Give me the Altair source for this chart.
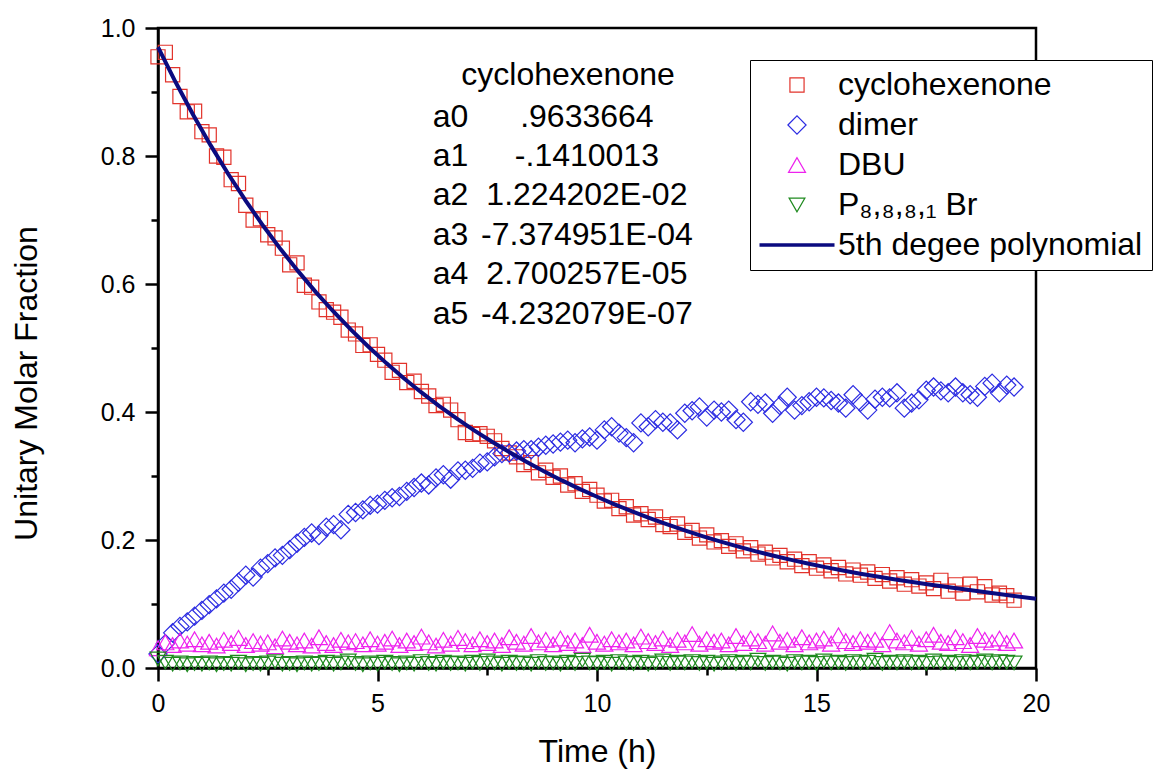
import altair as alt
import pandas as pd

FONT = "Liberation Sans"

# sampling instants (h), every 10 minutes
time_h = [round(i / 6, 4) for i in range(118)]

cyclohexenone = [
    .955, .962, .927, .893, .869, .870,
    .838, .833, .800, .798, .763, .757,
    .723, .700, .702, .677, .672, .656,
    .630, .633, .598, .595, .572, .560,
    .556, .548, .528, .522, .504, .505,
    .490, .481, .462, .465, .446, .448,
    .432, .425, .410, .412, .403, .388,
    .368, .365, .366, .362, .355, .343,
    .336, .330, .318, .321, .305, .309,
    .298, .300, .286, .288, .276, .279,
    .270, .261, .262, .249, .252, .239,
    .241, .232, .236, .224, .221, .225,
    .212, .215, .203, .208, .197, .199,
    .190, .194, .183, .188, .178, .181,
    .172, .176, .166, .170, .160, .166,
    .156, .161, .152, .157, .147, .153,
    .145, .150, .140, .146, .136, .141,
    .131, .138, .128, .133, .124, .137,
    .120, .130, .117, .131, .119, .127,
    .114, .117, .113, .106,
]

dimer = [
    .022, .038, .055, .065, .072, .081,
    .090, .099, .108, .117, .123, .134,
    .145, .142, .156, .163, .172, .176,
    .185, .195, .204, .211, .207, .220,
    .224, .216, .240, .243, .247, .254,
    .256, .262, .266, .268, .276, .282,
    .289, .286, .297, .302, .295, .308,
    .309, .312, .320, .322, .330, .335,
    .336, .339, .341, .341, .345, .348,
    .350, .353, .356, .352, .358, .361,
    .356, .372, .377, .367, .360, .352,
    .383, .377, .388, .384, .383, .372,
    .398, .402, .408, .392, .403, .400,
    .403, .388, .384, .416, .412, .414,
    .398, .410, .423, .403, .410, .416,
    .423, .422, .418, .414, .406, .427,
    .415, .403, .420, .423, .422, .430,
    .406, .414, .419, .434, .439, .433,
    .430, .439, .430, .427, .423, .440,
    .445, .430, .442, .439,
]

dbu = [
    .031, .040, .036, .043, .038, .045,
    .037, .041, .035, .044, .039, .047,
    .036, .042, .038, .040, .034, .046,
    .041, .037, .043, .035, .048, .039,
    .036, .044, .040, .042, .037, .045,
    .038, .041, .046, .036, .043, .039,
    .049, .040, .035, .044, .038, .047,
    .042, .037, .045, .039, .043, .036,
    .048, .041, .038, .050, .040, .044,
    .037, .046, .039, .043, .036, .052,
    .041, .038, .045, .040, .043, .037,
    .049, .042, .039, .046, .036, .044,
    .040, .053, .038, .045, .041, .043,
    .037, .050, .039, .046, .042, .038,
    .054, .041, .044, .037, .048, .040,
    .043, .046, .038, .051, .042, .039,
    .045, .041, .044, .037, .056, .043,
    .040, .047, .038, .045, .052, .041,
    .039, .048, .042, .036, .050, .044,
    .040, .046, .039, .043,
]

p8881br = [
    .014, .009, .006, .008, .005, .007,
    .006, .008, .005, .007, .006, .009,
    .005, .007, .006, .008, .010, .006,
    .007, .005, .008, .006, .007, .009,
    .006, .008, .011, .007, .005, .008,
    .006, .009, .007, .005, .008, .006,
    .010, .007, .006, .009, .007, .008,
    .006, .009, .007, .011, .008, .006,
    .009, .007, .008, .006, .010, .007,
    .008, .006, .009, .007, .012, .008,
    .007, .009, .006, .010, .008, .007,
    .009, .006, .008, .011, .007, .009,
    .008, .010, .007, .009, .006, .008,
    .010, .007, .009, .008, .012, .007,
    .009, .008, .006, .010, .008, .009,
    .007, .011, .008, .009, .007, .010,
    .008, .009, .012, .007, .009, .008,
    .010, .008, .009, .007, .011, .008,
    .009, .007, .010, .008, .009, .011,
    .008, .010, .009, .008,
]

series_names = ["cyclohexenone", "dimer", "DBU", "P\u2088,\u2088,\u2088,\u2081 Br", "5th degee polynomial"]
fit_name = "cyclohexenone"
coef_title = "cyclohexenone"
coef_names = ["a0", "a1", "a2", "a3", "a4", "a5"]
coef_values = [".9633664", "-.1410013", "1.224202E-02", "-7.374951E-04", "2.700257E-05", "-4.232079E-07"]

x_ticks = [0, 2.5, 5, 7.5, 10, 12.5, 15, 17.5, 20]
y_ticks = [0, 0.1, 0.2, 0.3, 0.4, 0.5, 0.6, 0.7, 0.8, 0.9, 1.0]

# styles
series_colors = ["#e2332b", "#2c2ce2", "#ee22ee", "#1f8a1f", "#0b0b80"]
series_shapes = ["square", "diamond", "triangle-up", "triangle-down",
                 "M-2.5,-0.07L2.5,-0.07M-2.5,0L2.5,0M-2.5,0.07L2.5,0.07"]
series_sizes = [200, 330, 290, 250, 900]

for arr in (cyclohexenone, dimer, dbu, p8881br):
    if len(arr) != len(time_h):
        raise SystemExit(f"length mismatch {len(arr)}")

rows = []
for name, vals in zip(series_names[:4], [cyclohexenone, dimer, dbu, p8881br]):
    for t, v in zip(time_h, vals):
        rows.append({"series": name, "time": t, "value": v})
df = pd.DataFrame(rows)

xaxis = alt.Axis(
    values=x_ticks, grid=False, labelFlush=False, labelOverlap=False,
    labelExpr="datum.value % 5 === 0 ? datum.label : ''",
    tickSize={"condition": {"test": "datum.value % 5 === 0", "value": 13}, "value": 7},
    tickColor="black", tickWidth=2.5, domainColor="black", domainWidth=2.5,
    labelFont=FONT, labelFontSize=25, labelColor="black", labelPadding=10,
    titleFont=FONT, titleFontSize=32, titleFontWeight="normal", titleColor="black",
    titleBaseline="alphabetic", titleY=93,
)
yaxis = alt.Axis(
    values=y_ticks, grid=False, labelFlush=False, labelOverlap=False,
    labelExpr="round(datum.value*10) % 2 === 0 ? format(datum.value, '.1f') : ''",
    tickSize={"condition": {"test": "round(datum.value*10) % 2 === 0", "value": 13}, "value": 7},
    tickColor="black", tickWidth=2.5, domainColor="black", domainWidth=2.5,
    labelFont=FONT, labelFontSize=25, labelColor="black", labelPadding=10,
    titleFont=FONT, titleFontSize=32, titleFontWeight="normal", titleColor="black",
    titleAngle=270, titleBaseline="alphabetic", titleX=-122, titleY=355,
)
xscale = alt.Scale(domain=[0, 20], nice=False, zero=False)
yscale = alt.Scale(domain=[0, 1], nice=False, zero=False)
X = alt.X("time:Q", scale=xscale, axis=xaxis, title="Time (h)")
Y = alt.Y("value:Q", scale=yscale, axis=yaxis, title="Unitary Molar Fraction")

legend = alt.Legend(
    title=None, orient="none", legendX=592, legendY=32, padding=9, rowPadding=8,
    symbolOffset=22, labelOffset=25, labelFont=FONT, labelFontSize=32,
    labelColor="black", labelLimit=800, strokeColor="black", fillColor="white",
    symbolStrokeWidth=1.2,
)

points = alt.Chart(df).mark_point(filled=False, strokeWidth=1.2, opacity=1).encode(
    x=X, y=Y,
    color=alt.Color("series:N", scale=alt.Scale(domain=series_names, range=series_colors), legend=legend),
    shape=alt.Shape("series:N", scale=alt.Scale(domain=series_names, range=series_shapes), legend=legend),
    size=alt.Size("series:N", scale=alt.Scale(type="ordinal", domain=series_names, range=series_sizes), legend=legend),
)

fit = (
    alt.Chart(df)
    .transform_filter(alt.datum.series == fit_name)
    .transform_regression("time", "value", method="poly", order=5, extent=[0, 20])
    .mark_line(color="#0b0b80", strokeWidth=4)
    .encode(x=X, y=Y)
)

anno = alt.Chart(pd.DataFrame({"k": [0]}))
txt = dict(font=FONT, fontSize=32, color="black", baseline="alphabetic")
title_txt = anno.mark_text(text=coef_title, align="center", **txt).encode(
    x=alt.datum(9.34), y=alt.datum(0.911))
label_txt = anno.mark_text(text=coef_names, align="left", lineHeight=39.4, **txt).encode(
    x=alt.datum(6.26), y=alt.datum(0.846))
value_txt = anno.mark_text(text=coef_values, align="center", lineHeight=39.4, **txt).encode(
    x=alt.datum(9.77), y=alt.datum(0.846))

chart = (
    alt.layer(points, fit, title_txt, label_txt, value_txt)
    .properties(
        width=878, height=640,
        padding={"left": 158, "top": 28, "right": 118, "bottom": 101},
        autosize=alt.AutoSizeParams(type="none"),
    )
    .configure(background="white")
    .configure_view(stroke="black", strokeWidth=2.5)
)

chart.save("out.html", embed_options={"renderer": "svg", "actions": False})
